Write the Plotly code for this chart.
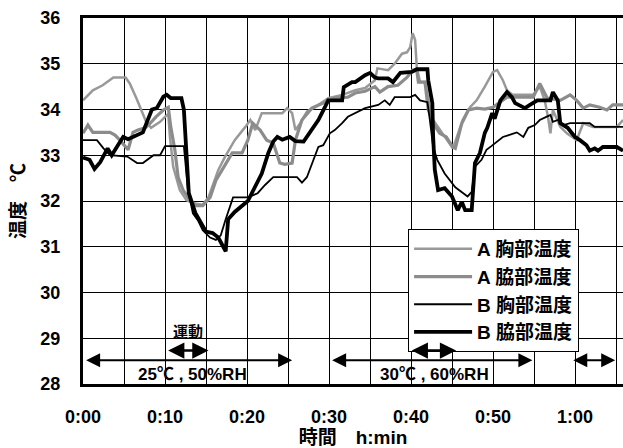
import plotly.graph_objects as go

# ---------------- data (minutes, deg C) ----------------
a_chest_t = [0, 1.2, 2.4, 3.7, 5.2, 5.7, 6.5, 7.1, 7.7, 8.3, 9.4, 10.0, 10.4, 10.6, 11.0, 11.8, 12.6, 13.4, 14.6,
             15.3, 15.9, 16.5, 17.3, 18.5, 19.8, 20.4, 21.0, 21.8, 24.3, 24.9, 25.5, 25.9, 26.5, 27.3, 28.3, 29.9,
             31.6, 33.2, 34.4, 35.6, 35.9, 37.2, 38.0, 38.9, 39.5, 39.9, 40.2, 40.5, 40.7, 41.1, 41.7, 42.3, 42.7,
             43.8, 44.5, 45.1, 45.6, 46.3, 47.2, 48.0, 49.0, 50.0, 50.5, 51.2, 51.7, 52.4, 54.9, 55.7, 56.3, 56.7,
             57.0, 57.3, 58.2, 59.0, 60.2, 61.0, 62.2, 65.1, 65.85]
a_chest_v = [34.2, 34.42, 34.53, 34.7, 34.7, 34.57, 34.25, 33.99, 33.73, 33.6, 33.73, 33.84, 33.9, 33.4, 32.75,
             32.24, 32.02, 31.95, 31.92, 32.08, 32.4, 32.68, 32.96, 33.33, 33.62, 33.77, 33.55, 33.92, 33.92,
             34.03, 33.92, 33.55, 33.7, 33.95, 34.05, 34.25, 34.32, 34.42, 34.47, 34.64, 34.9, 34.86, 35.0,
             35.22, 35.25, 35.36, 35.67, 35.52, 34.93, 34.6, 34.6, 34.05, 33.77, 33.48, 33.29, 33.15, 33.4,
             33.77, 34.05, 34.2, 34.5, 34.82, 34.86, 34.64, 34.42, 34.32, 34.32, 34.5, 34.2, 33.84, 33.48,
             33.99, 33.62, 33.48, 33.33, 33.7, 33.62, 33.62, 33.77]

a_axil_t = [0, 0.6, 1.2, 3.3, 3.9, 4.5, 5.5, 6.1, 6.7, 7.6, 8.2, 8.9, 9.8, 10.4, 10.7, 11.2, 11.6, 12.2, 13.0,
            13.8, 14.6, 15.5, 16.2, 17.0, 18.2, 19.4, 20.1, 20.7, 21.6, 22.4, 23.2, 24.0, 24.6, 25.5, 25.9,
            26.7, 27.9, 29.5, 30.7, 32.3, 33.2, 34.4, 35.6, 36.2, 37.2, 38.4, 39.5, 40.2, 40.7, 40.9, 41.7,
            42.1, 42.7, 43.5, 44.3, 45.1, 45.4, 46.2, 47.0, 48.0, 49.0, 50.0, 51.7, 54.9, 55.7, 56.6, 58.2,
            59.4, 60.2, 61.0, 61.8, 63.0, 63.9, 64.6, 65.85]
a_axil_v = [33.48, 33.66, 33.5, 33.5, 33.44, 33.33, 33.12, 33.5, 33.55, 33.6, 33.7, 33.84, 33.99, 34.05, 33.62,
            33.12, 32.52, 32.24, 32.02, 31.9, 31.9, 32.08, 32.45, 32.7, 33.05, 33.05, 33.33, 33.7, 33.55,
            33.33, 33.27, 32.83, 32.8, 32.83, 33.33, 33.77, 34.03, 34.16, 34.25, 34.27, 34.36, 34.4, 34.5,
            34.38, 34.5, 34.53, 34.7, 34.86, 34.86, 34.6, 34.6, 34.0, 33.7, 33.48, 33.4, 33.18, 33.15, 33.7,
            33.99, 34.03, 34.01, 34.05, 34.27, 34.27, 34.57, 34.25, 34.2, 34.32, 34.2, 34.03, 34.1, 34.05,
            33.99, 34.1, 34.1]

b_chest_t = [0, 1.7, 2.5, 3.3, 5.4, 6.6, 7.3, 8.6, 9.4, 10.0, 12.3, 12.8, 13.4, 14.0, 14.6, 15.5, 16.2, 16.8,
             17.4, 18.3, 20.1, 21.3, 22.2, 23.2, 26.1, 26.7, 27.3, 27.9, 28.7, 29.3, 30.1, 30.7, 31.6, 32.3,
             33.2, 34.4, 36.0, 36.8, 37.4, 38.0, 39.9, 40.5, 41.1, 42.0, 42.3, 42.7, 43.2, 44.1, 45.4, 46.3,
             46.9, 47.4, 47.8, 48.6, 49.2, 49.8, 51.2, 52.1, 52.9, 53.7, 54.3, 55.1, 55.7, 56.5, 57.0, 57.3,
             57.9, 58.6, 59.4, 61.8, 62.4, 65.85]
b_chest_v = [33.33, 33.33, 33.15, 33.0, 32.97, 32.83, 32.83, 33.0, 33.0, 33.2, 33.2, 32.24, 31.73, 31.58,
             31.36, 31.2, 31.15, 31.25, 31.6, 32.08, 32.08, 32.17, 32.35, 32.52, 32.52, 32.4, 32.52, 32.8,
             33.18, 33.22, 33.48, 33.55, 33.7, 33.84, 33.92, 34.03, 34.1, 34.2, 34.1, 34.27, 34.27, 34.32,
             34.2, 34.16, 33.77, 33.18, 32.9, 32.6, 32.3, 32.17, 32.1, 32.2, 32.75, 32.9, 33.12, 33.2, 33.4,
             33.45, 33.5, 33.4, 33.6, 33.66, 33.77, 33.84, 33.88, 33.73, 33.77, 33.66, 33.7, 33.7, 33.62, 33.62]

b_axil_t = [0, 0.8, 1.4, 2.1, 3.0, 3.5, 4.2, 4.9, 5.5, 6.3, 7.3, 8.4, 9.0, 9.8, 10.2, 10.7, 12.0, 12.3, 12.6,
            12.9, 13.7, 14.4, 15.0, 15.8, 16.5, 17.1, 17.4, 17.7, 18.5, 20.1, 21.0, 21.8, 22.6, 23.2, 23.7,
            24.3, 25.2, 25.9, 26.9, 27.9, 28.7, 29.5, 29.9, 31.6, 31.8, 32.8, 33.2, 34.4, 35.0, 35.6, 36.0,
            37.2, 37.8, 38.7, 40.1, 40.7, 42.0, 42.1, 42.6, 42.7, 42.9, 43.3, 44.1, 45.0, 45.7, 46.2, 46.6,
            47.4, 47.8, 48.4, 49.0, 49.3, 49.9, 50.2, 50.9, 51.7, 52.3, 52.7, 53.9, 54.5, 55.4, 57.0, 57.3,
            57.9, 58.2, 59.1, 60.0, 60.6, 61.4, 61.8, 62.4, 62.8, 63.4, 65.1, 65.85]
b_axil_v = [32.95, 32.9, 32.7, 32.85, 33.15, 33.0, 33.2, 33.4, 33.35, 33.42, 33.5, 34.0, 34.03, 34.28, 34.32,
            34.25, 34.25, 34.0, 32.9, 32.17, 31.74, 31.5, 31.33, 31.3, 31.2, 31.0, 30.9, 31.6, 31.76, 32.0,
            32.3, 32.6, 33.05, 33.3, 33.4, 33.34, 33.4, 33.31, 33.3, 33.55, 33.77, 34.05, 34.2, 34.2, 34.49,
            34.6, 34.6, 34.75, 34.8, 34.7, 34.68, 34.68, 34.6, 34.8, 34.82, 34.88, 34.88, 34.64, 34.14, 33.4,
            32.68, 32.24, 32.28, 32.1, 31.8, 31.98, 31.8, 31.8, 32.83, 33.05, 33.49, 33.6, 33.92, 33.8, 34.2,
            34.38, 34.27, 34.14, 34.03, 34.1, 34.2, 34.2, 34.38, 34.2, 33.7, 33.6, 33.4, 33.33, 33.22, 33.1,
            33.15, 33.1, 33.18, 33.18, 33.1]

series_names = ["A 胸部温度", "A 脇部温度", "B 胸部温度", "B 脇部温度"]

x_tickvals = [0, 5, 10, 15, 20, 25, 30, 35, 40, 45, 50, 55, 60, 65]
x_ticktext = ["0:00", "", "0:10", "", "0:20", "", "0:30", "", "0:40", "", "0:50", "", "1:00", ""]
y_tickvals = [28, 29, 30, 31, 32, 33, 34, 35, 36]

# condition periods (minutes) and labels
cond_periods = [(0.2, 25.5), (30.2, 54.8), (59.6, 64.9)]
exercise_periods = [(10.2, 15.3), (39.9, 45.5)]
cond_labels = ["25℃ , 50%RH", "30℃ , 60%RH"]
exercise_label = "運動"

FONT = "Liberation Sans, Arial, Noto Sans CJK JP, sans-serif"

fig = go.Figure()
styles = [
    dict(color="#999999", width=2.5),
    dict(color="#8c8c8c", width=3.2),
    dict(color="#000000", width=1.8),
    dict(color="#000000", width=3.8),
]
for name, t, v, st in zip(series_names,
                          [a_chest_t, a_axil_t, b_chest_t, b_axil_t],
                          [a_chest_v, a_axil_v, b_chest_v, b_axil_v],
                          styles):
    fig.add_trace(go.Scatter(x=t, y=v, mode="lines", name=name, line=st))

annotations = []
arrow_y_big = 28.52
arrow_y_small = 28.73
for (a, b) in cond_periods:
    annotations.append(dict(x=b, y=arrow_y_big, ax=a, ay=arrow_y_big, xref="x", yref="y", axref="x", ayref="y",
                            text="", showarrow=True, arrowhead=2, arrowside="end+start", arrowsize=1.4,
                            arrowwidth=2, arrowcolor="black", standoff=0, startstandoff=0))
for (a, b) in exercise_periods:
    annotations.append(dict(x=b, y=arrow_y_small, ax=a, ay=arrow_y_small, xref="x", yref="y", axref="x", ayref="y",
                            text="", showarrow=True, arrowhead=2, arrowside="end+start", arrowsize=1.3,
                            arrowwidth=2.5, arrowcolor="black", standoff=0, startstandoff=0))
annotations.append(dict(x=12.8, y=29.14, xref="x", yref="y", text="<b>" + exercise_label + "</b>", showarrow=False,
                        font=dict(family=FONT, size=15, color="black")))
for lab, xc in zip(cond_labels, [13.3, 42.9]):
    annotations.append(dict(x=xc, y=28.2, xref="x", yref="y", text="<b>" + lab + "</b>", showarrow=False,
                            font=dict(family=FONT, size=17, color="black")))

fig.update_layout(
    width=623, height=448, autosize=False,
    margin=dict(l=83, r=0, t=18, b=64),
    paper_bgcolor="white", plot_bgcolor="white",
    font=dict(family=FONT, color="black", size=18, weight="bold"),
    showlegend=True,
    legend=dict(x=0.602, y=0.4235, xanchor="left", yanchor="top", bgcolor="white",
                bordercolor="black", borderwidth=1, font=dict(size=19, family=FONT, weight="bold"),
                itemwidth=58, tracegroupgap=0),
    annotations=annotations,
)
fig.update_xaxes(
    range=[0, 65.85], tickvals=x_tickvals, ticktext=x_ticktext,
    showgrid=True, gridcolor="black", gridwidth=1,
    showline=True, linecolor="black", linewidth=3, mirror=True,
    ticks="", ticklabelstandoff=14, zeroline=False,
    tickfont=dict(size=18, family=FONT, weight="bold"),
    title=dict(text="時間　h:min", standoff=6, font=dict(size=19, family=FONT, weight="bold")),
)
fig.update_yaxes(
    range=[28, 36], tickvals=y_tickvals,
    showgrid=True, gridcolor="black", gridwidth=1,
    showline=True, linecolor="black", linewidth=3, mirror=False,
    ticks="", ticklabelstandoff=16, zeroline=False,
    tickfont=dict(size=18, family=FONT, weight="bold"),
    title=dict(text="温度　℃", standoff=10, font=dict(size=19, family=FONT, weight="bold")),
)
fig.write_html("out.html", config={"displayModeBar": False},
               post_script="document.body.style.margin='0';")
